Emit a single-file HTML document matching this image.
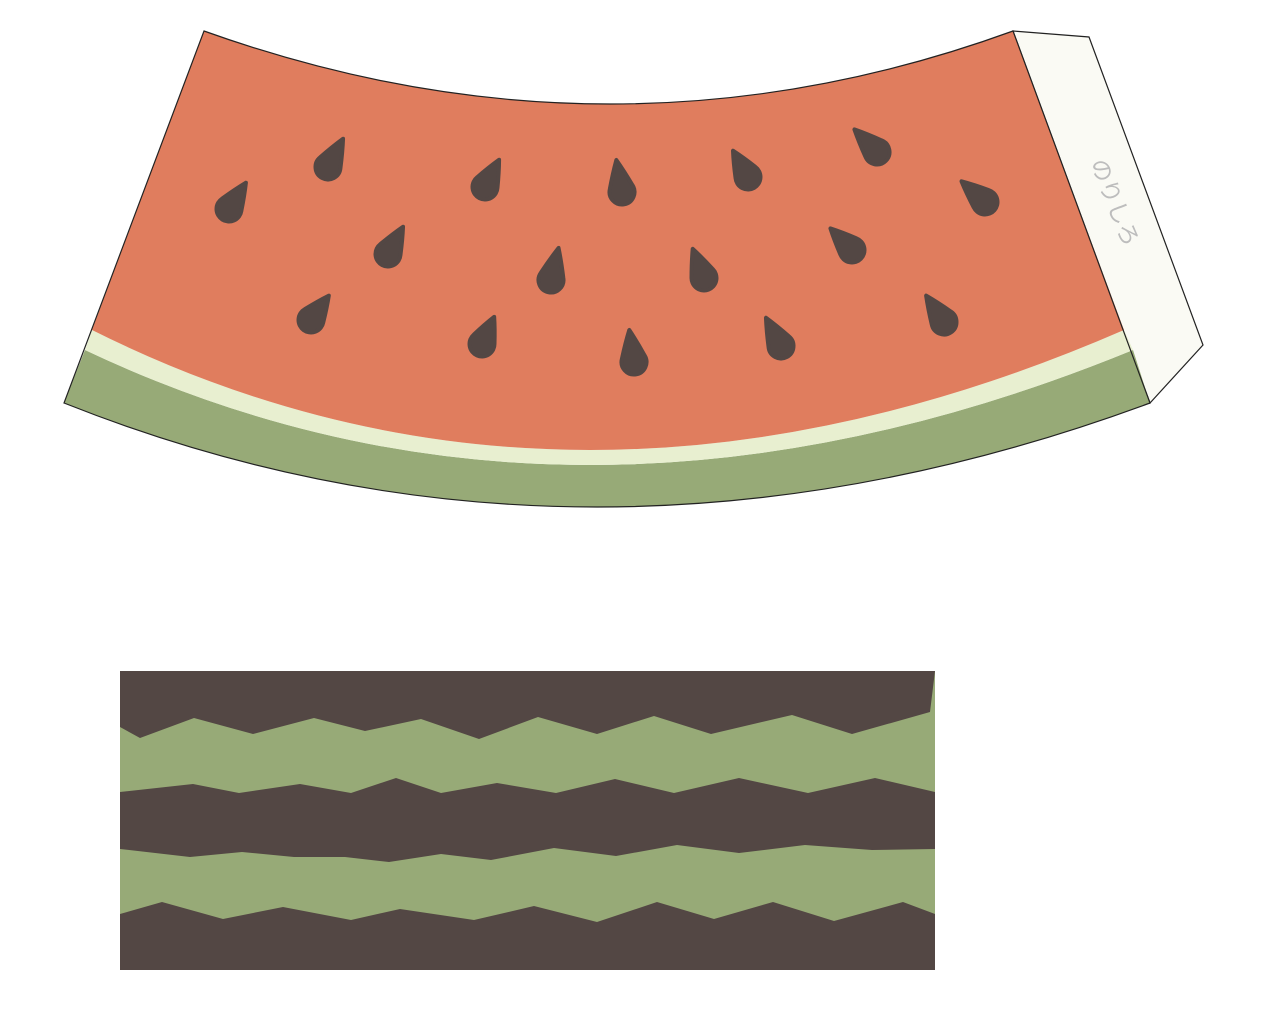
<!DOCTYPE html>
<html><head><meta charset="utf-8"><style>html,body{margin:0;padding:0;background:#fff;width:1270px;height:1014px;overflow:hidden}</style></head>
<body>
<svg id="s" width="1270" height="1014" viewBox="0 0 1270 1014" xmlns="http://www.w3.org/2000/svg">
  <g>
    <polygon points="1013,31 1089,37 1203,345 1150,403" fill="#fafaf4" stroke="#222" stroke-width="1.2"/>
    <path d="M64,403 L85,350 Q571,580 1133,350 L1150,403 Q587,611 64,403 Z" fill="#97aa77"/>
    <path d="M85,350 L92,330 Q572,570 1124,330 L1133,350 Q571,580 85,350 Z" fill="#e8efd0"/>
    <path d="M204,31 Q612,177 1013,31 L1124,330 Q572,570 92,330 Z" fill="#e07d5e"/>
    <path d="M204,31 Q612,177 1013,31 L1150,403 Q587,611 64,403 Z" fill="none" stroke="#222" stroke-width="1.2"/>
    <text x="0" y="0" transform="translate(1113,203) rotate(68)" text-anchor="middle" dominant-baseline="middle" font-family="'Liberation Sans','Noto Sans CJK JP',sans-serif" font-size="23" fill="#bdbdbd">のりしろ</text>
    <g id="seeds"></g>
  </g>
  <g>
    <rect x="120" y="671" width="815" height="299" fill="#534744"/>
    <polygon fill="#97aa77" points="120,727 140,738 194,718 253,734 314,718 365,731 421,719 479,739 538,717 597,734 654,716 711,734 792,715 852,734 930,712 935,671 935,792 875,778 808,793 739,778 674,793 615,779 556,793 497,783 441,793 396,778 351,793 300,784 239,793 193,784 120,792"/>
    <polygon fill="#97aa77" points="120,849 190,857 242,852 294,857 345,857 389,862 441,854 491,860 554,848 616,856 677,845 739,853 805,845 872,850 935,849 935,914 903,902 834,921 773,902 714,919 657,902 597,922 534,906 474,920 400,909 351,920 283,907 223,919 162,902 120,914"/>
  </g>
</svg>
<script>
const seedCx=[229,328,388,485,622,748,877,985,311,551,482,634,704,852,781,944];
const seedCy=[209,167,254,187,192,177,152,202,320,280,344,362,278,250,346,322];
const tipX=[247,344,404,500,616,732,853,960,330,559,495,629,692,829,765,925];
const tipY=[181,137,225,158,158,149,128,180,294,246,315,328,247,227,316,294];
const g=document.getElementById('seeds');
const r=12.5;
for(let i=0;i<seedCx.length;i++){
  const cx=seedCx[i],cy=seedCy[i];
  const dx0=tipX[i]-cx,dy0=tipY[i]-cy,d0=Math.hypot(dx0,dy0);
  const tx=cx+dx0*(d0-2)/d0,ty=cy+dy0*(d0-2)/d0;
  const dx=tx-cx,dy=ty-cy,d=Math.hypot(dx,dy);
  const a=Math.atan2(dy,dx),b=Math.acos(Math.min(0.95,r/d));
  const p1=[cx+r*Math.cos(a+b),cy+r*Math.sin(a+b)];
  const p2=[cx+r*Math.cos(a-b),cy+r*Math.sin(a-b)];
  const p=document.createElementNS('http://www.w3.org/2000/svg','path');
  p.setAttribute('d',`M${p1[0]},${p1[1]} Q${(p1[0]+tx)/2+dx*0.05},${(p1[1]+ty)/2+dy*0.05} ${tx},${ty} Q${(p2[0]+tx)/2+dx*0.05},${(p2[1]+ty)/2+dy*0.05} ${p2[0]},${p2[1]} A${r},${r} 0 1 0 ${p1[0]},${p1[1]} Z`);
  p.setAttribute('fill','#534744');
  p.setAttribute('stroke','#534744');
  p.setAttribute('stroke-width','4');
  p.setAttribute('stroke-linejoin','round');
  
  
  g.appendChild(p);
}
</script>
</body></html>
